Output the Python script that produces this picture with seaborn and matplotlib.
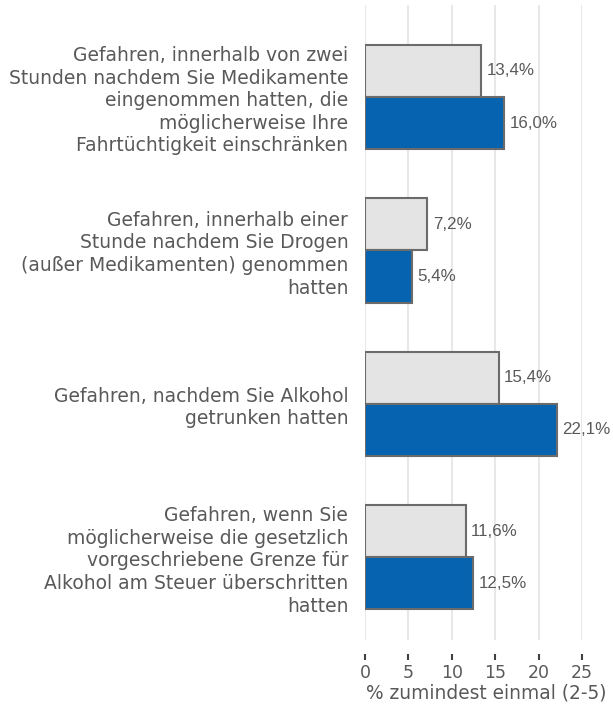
import pandas as pd
import matplotlib
matplotlib.use("Agg")
import matplotlib.pyplot as plt
import seaborn as sns

# Chart data
categories = [
    "Gefahren, innerhalb von zwei\nStunden nachdem Sie Medikamente\neingenommen hatten, die\nmöglicherweise Ihre\nFahrtüchtigkeit einschränken",
    "Gefahren, innerhalb einer\nStunde nachdem Sie Drogen\n(außer Medikamenten) genommen\nhatten",
    "Gefahren, nachdem Sie Alkohol\ngetrunken hatten",
    "Gefahren, wenn Sie\nmöglicherweise die gesetzlich\nvorgeschriebene Grenze für\nAlkohol am Steuer überschritten\nhatten",
]
series_names = ["Serie 1", "Serie 2"]
values_grey = [13.4, 7.2, 15.4, 11.6]
values_blue = [16.0, 5.4, 22.1, 12.5]
x_ticks = [0, 5, 10, 15, 20, 25]
x_label = "% zumindest einmal (2-5)"

# Long-form table for seaborn
df = pd.DataFrame({
    "Kategorie": categories * 2,
    "Reihe": [series_names[0]] * len(categories) + [series_names[1]] * len(categories),
    "Wert": values_grey + values_blue,
})

sns.set_theme(style="white")
plt.rcParams["font.family"] = ["DejaVu Sans"]

text_color = "#595959"
palette = {series_names[0]: "#E4E4E4", series_names[1]: "#0563AF"}

fig = plt.figure(figsize=(6.13, 7.08), dpi=100)
ax = fig.add_axes([0.5954, 0.096, 0.354, 0.897])

sns.barplot(
    data=df, x="Wert", y="Kategorie", hue="Reihe", orient="h",
    order=categories, hue_order=series_names, palette=palette,
    width=0.68, edgecolor="#6B6B6B", linewidth=1.5, saturation=1,
    legend=False, ax=ax,
)

# Value labels with German decimal comma
for container in ax.containers:
    labels = [f"{v:.1f}%".replace(".", ",") for v in container.datavalues]
    ax.bar_label(container, labels=labels, padding=4, color=text_color,
                 fontsize=12.2, family="Liberation Sans", clip_on=False)

ax.set_xlim(0, 25)
ax.set_ylim(3.54, -0.6)
ax.set_xticks(x_ticks)
ax.xaxis.grid(True, color="#E8E8E8", linewidth=1.5)
ax.set_axisbelow(True)

for side in ["top", "right", "left", "bottom"]:
    ax.spines[side].set_visible(False)
ax.spines["bottom"].set_position(("outward", 10))

ax.tick_params(axis="x", length=4, width=1.5, color="#404040",
               labelsize=12.5, labelcolor=text_color, pad=3, bottom=True)
ax.tick_params(axis="y", length=0, pad=12, labelsize=13.5, labelcolor=text_color)
for lbl in ax.get_yticklabels():
    lbl.set_linespacing(1.24)

ax.set_ylabel("")
ax.set_xlabel(x_label, fontsize=13.4, color=text_color)
ax.xaxis.set_label_coords(0.56, -0.068)

fig.savefig("out.png", dpi=100)
